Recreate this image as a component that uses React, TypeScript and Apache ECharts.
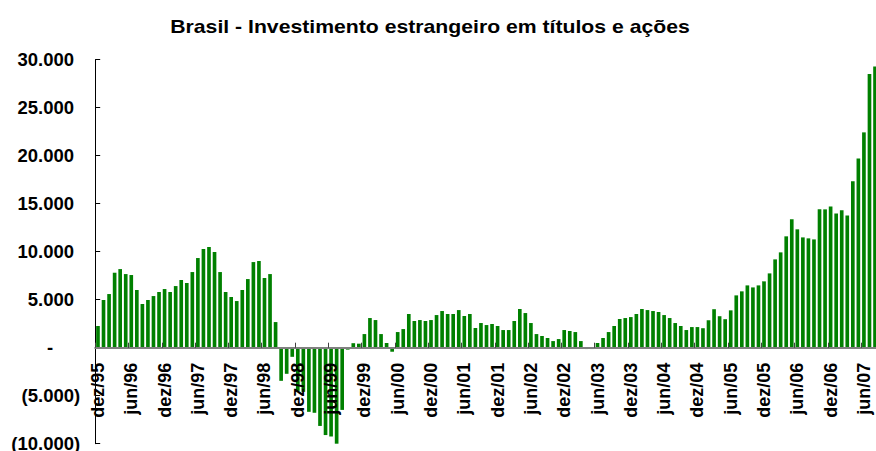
import React, { useEffect, useRef } from "react";
import * as echarts from "echarts";

// Month abbreviations (pt-BR) used for the category labels
const monthNames = ["jan", "fev", "mar", "abr", "mai", "jun", "jul", "ago", "set", "out", "nov", "dez"];
const startYear = 1995;
const startMonth = 11; // dez
const monthCount = 141; // dez/95 .. ago/07

// Investimento estrangeiro (US$ milhões), valores mensais
const values1995to1998 = [
  2260, 4970, 5590, 7810, 8190, 7670, 7570, 6010, 4550, 4970, 5380, 5800,
  6110, 5800, 6420, 7050, 6740, 7880, 9340, 10280, 10490, 9970, 7880, 5800,
  5280, 4860, 6010, 7150, 8920, 9030, 7260, 7670, 2670, -3450, -2720, -950,
];
const values1998to2001 = [
  -4500, -4600, -6680, -6780, -8150, -9100, -9250, -10320, -6480, -200, 470, 420,
  1420, 3090, 2880, 1420, 490, -420, 1630, 1940, 3510, 2780, 2880, 2780,
  2880, 3400, 3820, 3510, 3510, 3920, 3300, 3510, 2050, 2570, 2360, 2470,
];
const values2001to2004 = [
  2260, 1840, 1840, 2780, 4030, 3610, 2570, 1420, 1220, 1010, 690, 900,
  1840, 1740, 1630, 690, -140, -140, 490, 1010, 1630, 2260, 2990, 3090,
  3190, 3510, 4030, 3920, 3820, 3720, 3400, 3090, 2570, 2260, 1840, 2150,
];
const values2004to2007 = [
  2150, 2030, 2860, 4010, 3280, 2970, 3890, 5450, 5870, 6490, 6280, 6490,
  6910, 7740, 9200, 9930, 11600, 13370, 12330, 11490, 11390, 11280, 14410, 14410,
  14720, 13990, 14310, 13780, 17330, 19720, 22430, 28500, 29300,
];

const values = [...values1995to1998, ...values1998to2001, ...values2001to2004, ...values2004to2007];

const categories: string[] = [];
for (let i = 0; i < monthCount; i++) {
  const m = (startMonth + i) % 12;
  const y = startYear + Math.floor((startMonth + i) / 12);
  categories.push(monthNames[m] + "/" + String(y % 100).padStart(2, "0"));
}

const yMin = -10000;
const yMax = 30000;
const yStep = 5000;

const titleText = "Brasil - Investimento estrangeiro em títulos e ações";
const FONT = '"Liberation Sans", Arial, Helvetica, sans-serif';

// plot area layout
const GRID_TOP = 59.7;
const GRID_HEIGHT = 384;
// distance from the bottom of the plot up to the zero line
const ZERO_OFFSET = (GRID_HEIGHT * (0 - yMin)) / (yMax - yMin);

function fmtThousands(v: number): string {
  return Math.abs(v).toString().replace(/\B(?=(\d{3})+(?!\d))/g, ".");
}

export default function App() {
  const ref = useRef<HTMLDivElement>(null);

  useEffect(() => {
    if (!ref.current) return;
    const chart = echarts.init(ref.current, undefined, { renderer: "svg" });
    const labelFont = { fontSize: 18.5, fontWeight: "bold" as const, fontFamily: FONT, color: "#000" };
    chart.setOption({
      animation: false,
      backgroundColor: "#ffffff",
      textStyle: { fontFamily: FONT },
      graphic: [
        {
          type: "text",
          x: 430,
          y: 26,
          scaleX: 1.14,
          z: 100,
          style: {
            text: titleText,
            fontSize: 18.6,
            fontWeight: "bold",
            fontFamily: FONT,
            fill: "#000",
            align: "center",
            verticalAlign: "middle",
            textAlign: "center",
            textVerticalAlign: "middle",
          },
        },
      ],
      grid: {
        left: 95.2,
        top: GRID_TOP,
        width: 782.6,
        height: GRID_HEIGHT,
        containLabel: false,
        outerBoundsMode: "none",
      },
      xAxis: {
        type: "category",
        data: categories,
        boundaryGap: true,
        position: "bottom",
        offset: -ZERO_OFFSET,
        z: 10,
        axisLine: { show: true, onZero: false, lineStyle: { color: "#808080", width: 2 } },
        axisTick: { show: true, inside: true, length: 5, interval: 5, alignWithLabel: false, lineStyle: { color: "#404040", width: 1 } },
        axisLabel: {
          interval: 5,
          rotate: 90,
          margin: 15,
          fontSize: 18,
          fontWeight: "bold",
          fontFamily: FONT,
          color: "#000",
        },
        splitLine: { show: false },
      },
      yAxis: {
        type: "value",
        min: yMin,
        max: yMax,
        interval: yStep,
        axisLine: { show: true, lineStyle: { color: "#000", width: 1 } },
        axisTick: { show: true, inside: true, length: 5, lineStyle: { color: "#000", width: 1 } },
        splitLine: { show: false },
        axisLabel: {
          margin: 15,
          ...labelFont,
          formatter: (v: number) => {
            if (v === 0) return "{z|-}";
            if (v < 0) return "{n|(" + fmtThousands(v) + ")}";
            return "{p|" + fmtThousands(v) + "}";
          },
          rich: {
            p: { ...labelFont, padding: [0, 6.2, 0, 0] },
            n: { ...labelFont },
            z: { ...labelFont, padding: [0, 27, 0, 0] },
          },
        },
      },
      series: [
        {
          type: "bar",
          data: values,
          barWidth: "66%",
          z: 2,
          itemStyle: { color: "#008000" },
        },
      ],
    });
    return () => chart.dispose();
  }, []);

  return (
    <div
      ref={ref}
      style={{ position: "fixed", left: 0, top: 0, width: 876, height: 451, background: "#fff" }}
    />
  );
}
